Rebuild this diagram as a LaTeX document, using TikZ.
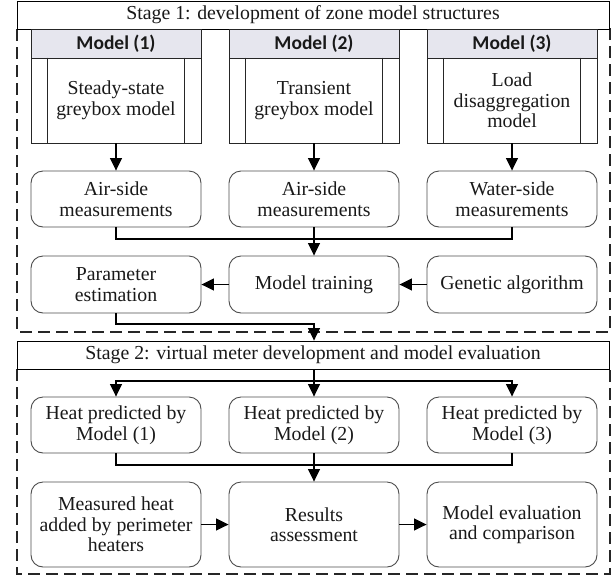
\documentclass[tikz,border=0pt]{standalone}
\usepackage{fontspec}
\setmainfont{Liberation Serif}
\newfontfamily\hdrfont{Carlito}
\usetikzlibrary{arrows.meta}
\definecolor{hdrfill}{RGB}{230,230,238}
\definecolor{txt}{RGB}{25,25,25}
\begin{document}
\begin{tikzpicture}[x=1pt,y=-1pt,
  txtfont/.style={font=\fontsize{19.8}{20.5}\selectfont, text=txt},
  rbox/.style={txtfont, draw=black!70, line width=0.9pt, rounded corners=12pt,
    minimum width=170pt, inner sep=0pt, align=center},
  mbody/.style={txtfont, draw=black!85, line width=0.9pt, minimum width=170pt,
    minimum height=85pt, inner sep=0pt, align=center},
  mhead/.style={font=\hdrfont\bfseries\fontsize{19.5}{20.5}\selectfont, text=txt,
    draw=black!85, line width=0.9pt, fill=hdrfill, minimum width=170pt,
    minimum height=29pt, inner sep=0pt},
  stitle/.style={txtfont, draw=black, line width=0.9pt, fill=white,
    minimum width=592pt, minimum height=28pt, inner sep=0pt},
  frame/.style={draw=black!85, line width=1.8pt, dash pattern=on 12pt off 6pt},
  conn/.style={draw=black, line width=1.2pt},
  arr/.style={conn, -{Triangle[length=12.5pt,width=12pt]}},
  sideline/.style={draw=black!85, line width=0.9pt}
]
\useasboundingbox (0,0) rectangle (616,579);

% dashed frames
\draw[frame] (17,29) rectangle (610,332);
\draw[frame] (17,369) rectangle (610,574);

% stage titles
\node[stitle] (s1) at (313,15) {Stage 1: development of zone model structures};
\node[stitle] (s2) at (313,355) {Stage 2: virtual meter development and model evaluation};

% model boxes
\node[mhead] (h1) at (116,43.5) {Model (1)};
\node[mhead] (h2) at (314,43.5) {Model (2)};
\node[mhead] (h3) at (512,43.5) {Model (3)};
\node[mbody] (b1) at (116,100.5) {Steady-state\\greybox model};
\node[mbody] (b2) at (314,100.5) {Transient\\greybox model};
\node[mbody] (b3) at (512,100.5) {Load\\disaggregation\\model};
\foreach \b in {b1,b2,b3}{
  \draw[sideline] ([xshift=17pt]\b.north west) -- ([xshift=17pt]\b.south west);
  \draw[sideline] ([xshift=-17pt]\b.north east) -- ([xshift=-17pt]\b.south east);
}

% row 2
\node[rbox, minimum height=56pt] (a1) at (116,199) {Air-side\\measurements};
\node[rbox, minimum height=56pt] (a2) at (314,199) {Air-side\\measurements};
\node[rbox, minimum height=56pt] (a3) at (512,199) {Water-side\\measurements};

% row 3
\node[rbox, minimum height=57pt] (pe) at (116,284.5) {Parameter\\estimation};
\node[rbox, minimum height=57pt] (mt) at (314,284.5) {Model training};
\node[rbox, minimum height=57pt] (ga) at (512,284.5) {Genetic algorithm};

% row 4
\node[rbox, minimum height=56pt] (hp1) at (116,425) {Heat predicted by\\Model (1)};
\node[rbox, minimum height=56pt] (hp2) at (314,425) {Heat predicted by\\Model (2)};
\node[rbox, minimum height=56pt] (hp3) at (512,425) {Heat predicted by\\Model (3)};

% row 5
\node[rbox, minimum height=85pt] (mh) at (116,524.5) {Measured heat\\added by perimeter\\heaters};
\node[rbox, minimum height=85pt] (ra) at (314,524.5) {Results\\assessment};
\node[rbox, minimum height=85pt] (me) at (512,524.5) {Model evaluation\\and comparison};

% junction coordinates
\coordinate (j1) at (314,239);
\coordinate (j2) at (314,324);
\coordinate (j3) at (314,381);
\coordinate (j4) at (314,465);

% connectors stage 1
\draw[arr] (b1.south) -- (a1.north);
\draw[arr] (b2.south) -- (a2.north);
\draw[arr] (b3.south) -- (a3.north);
\draw[conn] (a1.south) |- (j1) -| (a3.south);
\draw[arr] (a2.south) -- (mt.north);
\draw[arr] (ga.west) -- (mt.east);
\draw[arr] (mt.west) -- (pe.east);
\draw[arr] (pe.south) |- (j2) -- (j2 |- s2.north);

% connectors stage 2
\draw[arr] (s2.south -| j3) -- (hp2.north);
\draw[arr] (j3) -| (hp1.north);
\draw[arr] (j3) -| (hp3.north);
\draw[conn] (hp1.south) |- (j4) -| (hp3.south);
\draw[arr] (hp2.south) -- (ra.north);
\draw[arr] (mh.east) -- (ra.west);
\draw[arr] (ra.east) -- (me.west);
\end{tikzpicture}
\end{document}
